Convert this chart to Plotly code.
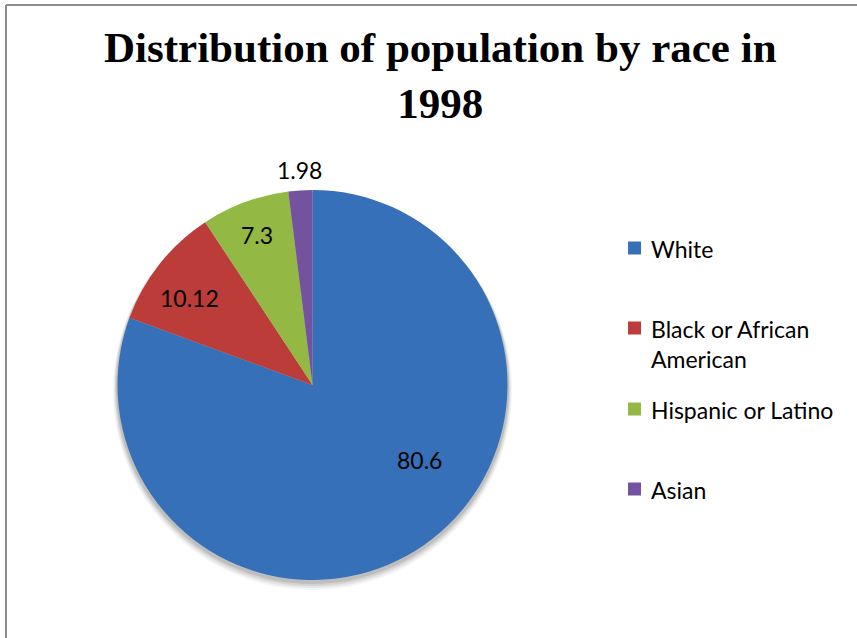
import math
import plotly.graph_objects as go

# Population share by race, 1998 (percent)
races = ["White", "Black or African American", "Hispanic or Latino", "Asian"]
legend_lines = ["White", "Black or African<br>American", "Hispanic or Latino", "Asian"]
shares = [80.6, 10.12, 7.3, 1.98]
colors = ["#3670b8", "#bb3c39", "#93b944", "#7353a0"]

W, H = 857, 638
LABEL_FONT = "Lato, 'Open Sans', sans-serif"
FONT_SIZE = 23

# Pie geometry in pixels (left/right/bottom/top of the circle)
PIE_L, PIE_R, PIE_T, PIE_B = 117, 508, 190, 580
CX, CY = (PIE_L + PIE_R) / 2, (PIE_T + PIE_B) / 2
RADIUS = (PIE_R - PIE_L) / 2

# Data-label placement per slice: radial fraction and angular nudge (degrees)
label_radius = [0.67, 0.77, 0.82, 1.10]
label_nudge = [-20, -3, 0, 0]


def px(x, y):
    """Pixel position -> paper coordinates."""
    return x / W, 1 - y / H


fig = go.Figure(
    go.Pie(
        labels=races,
        values=shares,
        sort=False,
        direction="clockwise",
        rotation=0,
        marker=dict(colors=colors, line=dict(width=0)),
        textinfo="none",
        showlegend=False,
        hoverinfo="label+value",
        domain=dict(x=[PIE_L / W, PIE_R / W], y=[1 - PIE_B / H, 1 - PIE_T / H]),
    )
)

shapes = []
annotations = []

# Soft drop shadow under the pie
for grow, off, alpha in [(4, 6, 0.04), (3, 5, 0.06), (2, 4, 0.08), (1, 3, 0.10)]:
    x0, y0 = px(PIE_L - grow, PIE_T - grow + off)
    x1, y1 = px(PIE_R + grow, PIE_B + grow + off)
    shapes.append(dict(type="circle", xref="paper", yref="paper", layer="below",
                       x0=x0, x1=x1, y0=y1, y1=y0,
                       fillcolor=f"rgba(0,0,0,{alpha})", line=dict(width=0)))

# Value labels, positioned along each slice's bisector
total = sum(shares)
start = 0.0
for value, frac, nudge in zip(shares, label_radius, label_nudge):
    sweep = value / total * 360
    ang = math.radians(start + sweep / 2 + nudge)
    start += sweep
    lx = CX + math.sin(ang) * RADIUS * frac
    ly = CY - math.cos(ang) * RADIUS * frac
    ax, ay = px(lx, ly)
    annotations.append(dict(xref="paper", yref="paper", x=ax, y=ay,
                            xanchor="center", yanchor="middle",
                            text=f"{value:g}", showarrow=False,
                            font=dict(family=LABEL_FONT, size=FONT_SIZE, color="black")))

# Legend: colored squares with labels on the right
legend_y = [248, 328, 409, 489]
for name, color, y in zip(legend_lines, colors, legend_y):
    x0, y0 = px(628, y - 6.5)
    x1, y1 = px(641, y + 6.5)
    shapes.append(dict(type="rect", xref="paper", yref="paper",
                       x0=x0, x1=x1, y0=y1, y1=y0,
                       fillcolor=color, line=dict(width=0)))
    tx, ty = px(649, y - 15)
    annotations.append(dict(xref="paper", yref="paper", x=tx, y=ty,
                            xanchor="left", yanchor="top", align="left",
                            text=name, showarrow=False,
                            font=dict(family=LABEL_FONT, size=FONT_SIZE, color="black")))

# Chart title
tx, ty = px(440, 22)
annotations.append(dict(xref="paper", yref="paper", x=tx, y=ty,
                        xanchor="center", yanchor="top", align="center",
                        text="<b>Distribution of population by race in<br>1998</b>",
                        showarrow=False,
                        font=dict(family="'Liberation Serif', 'Times New Roman', serif",
                                  size=43, color="black")))

# Chart frame (left and top edges)
fx, fy = px(6, 5)
shapes.append(dict(type="line", xref="paper", yref="paper",
                   x0=fx, x1=1, y0=fy, y1=fy, line=dict(color="#8c8c8c", width=2)))
shapes.append(dict(type="line", xref="paper", yref="paper",
                   x0=fx, x1=fx, y0=0, y1=fy, line=dict(color="#8c8c8c", width=2)))

fig.update_layout(
    width=W,
    height=H,
    margin=dict(l=0, r=0, t=0, b=0),
    paper_bgcolor="white",
    plot_bgcolor="white",
    shapes=shapes,
    annotations=annotations,
)

fig.write_html("out.html")
